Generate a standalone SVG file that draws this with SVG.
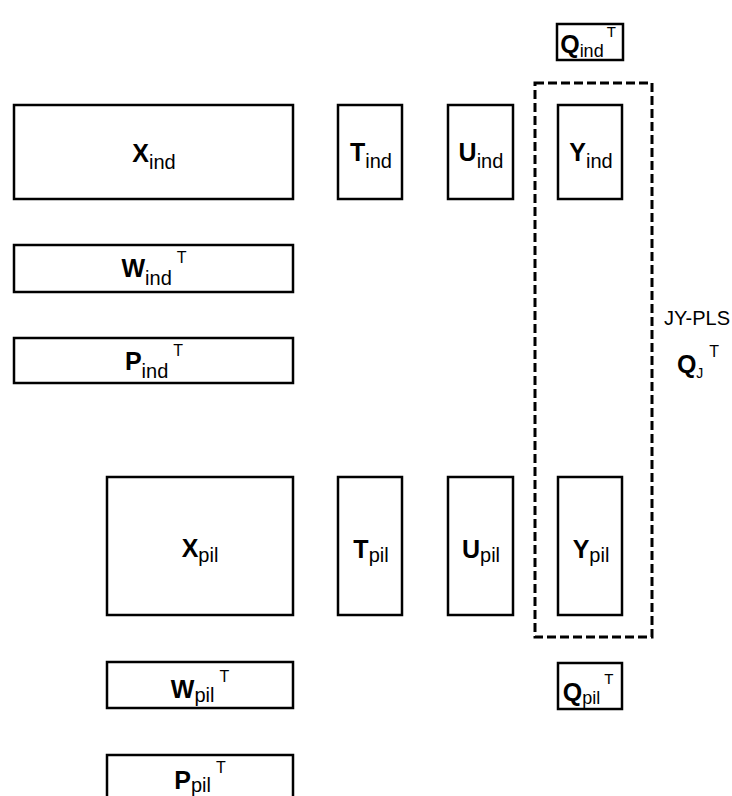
<svg xmlns="http://www.w3.org/2000/svg" width="732" height="796" viewBox="0 0 732 796">
<style>
.box{fill:#fff;stroke:#000;stroke-width:2.5}
.dash{fill:none;stroke:#000;stroke-width:3;stroke-dasharray:9 4}
text{font-family:"Liberation Sans",Arial,sans-serif;fill:#000;text-anchor:middle}
.m{font-size:25px;font-weight:bold}
.s{font-size:20px}
.sup{font-size:16px}
.plain{font-size:20px}
.qs{font-size:18px}
.qsup{font-size:15px}
</style>
<rect width="732" height="796" fill="#fff"/>
<g id="connectors">
<rect class="dash" x="535" y="83" width="117" height="554"/>
</g>
<g id="Q_ind">
<rect class="box" x="557" y="24" width="66" height="36"/>
<text x="588" y="53"><tspan class="m">Q</tspan><tspan class="qs" dy="4">ind</tspan><tspan class="qsup" dx="3" dy="-20">T</tspan></text>
</g>
<g id="X_ind">
<rect class="box" x="14" y="105" width="279" height="94"/>
<text x="154" y="162"><tspan class="m">X</tspan><tspan class="s" dy="7">ind</tspan></text>
</g>
<g id="T_ind">
<rect class="box" x="338" y="105" width="64" height="94"/>
<text x="371" y="161"><tspan class="m">T</tspan><tspan class="s" dy="7">ind</tspan></text>
</g>
<g id="U_ind">
<rect class="box" x="448" y="105" width="65" height="94"/>
<text x="481" y="161"><tspan class="m">U</tspan><tspan class="s" dy="7">ind</tspan></text>
</g>
<g id="Y_ind">
<rect class="box" x="558" y="105" width="64" height="94"/>
<text x="591" y="161"><tspan class="m">Y</tspan><tspan class="s" dy="7">ind</tspan></text>
</g>
<g id="W_ind">
<rect class="box" x="14" y="245" width="279" height="47"/>
<text x="154" y="277"><tspan class="m">W</tspan><tspan class="s" dy="8">ind</tspan><tspan class="sup" dx="5" dy="-22">T</tspan></text>
</g>
<g id="P_ind">
<rect class="box" x="14" y="338" width="279" height="45"/>
<text x="154" y="370"><tspan class="m">P</tspan><tspan class="s" dy="8">ind</tspan><tspan class="sup" dx="5" dy="-22">T</tspan></text>
</g>
<g id="JY-PLS">
<text class="plain" x="697" y="325">JY-PLS</text>
<text x="698" y="373"><tspan class="m">Q</tspan><tspan class="s" dy="5" style="font-size:14px">J</tspan><tspan class="sup" dx="6" dy="-21">T</tspan></text>
</g>
<g id="X_pil">
<rect class="box" x="107" y="477" width="186" height="138"/>
<text x="200" y="557"><tspan class="m">X</tspan><tspan class="s" dy="5">pil</tspan></text>
</g>
<g id="T_pil">
<rect class="box" x="338" y="477" width="64" height="138"/>
<text x="371" y="558"><tspan class="m">T</tspan><tspan class="s" dy="4">pil</tspan></text>
</g>
<g id="U_pil">
<rect class="box" x="448" y="477" width="65" height="138"/>
<text x="481" y="558"><tspan class="m">U</tspan><tspan class="s" dy="4">pil</tspan></text>
</g>
<g id="Y_pil">
<rect class="box" x="558" y="477" width="64" height="138"/>
<text x="591" y="558"><tspan class="m">Y</tspan><tspan class="s" dy="4">pil</tspan></text>
</g>
<g id="W_pil">
<rect class="box" x="107" y="662" width="186" height="46"/>
<text x="200" y="698"><tspan class="m">W</tspan><tspan class="s" dy="4">pil</tspan><tspan class="sup" dx="5" dy="-20">T</tspan></text>
</g>
<g id="Q_pil">
<rect class="box" x="558" y="663" width="64" height="46"/>
<text x="588" y="701"><tspan class="m">Q</tspan><tspan class="qs" dy="3">pil</tspan><tspan class="qsup" dx="4" dy="-20">T</tspan></text>
</g>
<g id="P_pil">
<rect class="box" x="107" y="755" width="186" height="50"/>
<text x="200" y="789"><tspan class="m">P</tspan><tspan class="s" dy="3">pil</tspan><tspan class="sup" dx="5" dy="-19">T</tspan></text>
</g>
</svg>
